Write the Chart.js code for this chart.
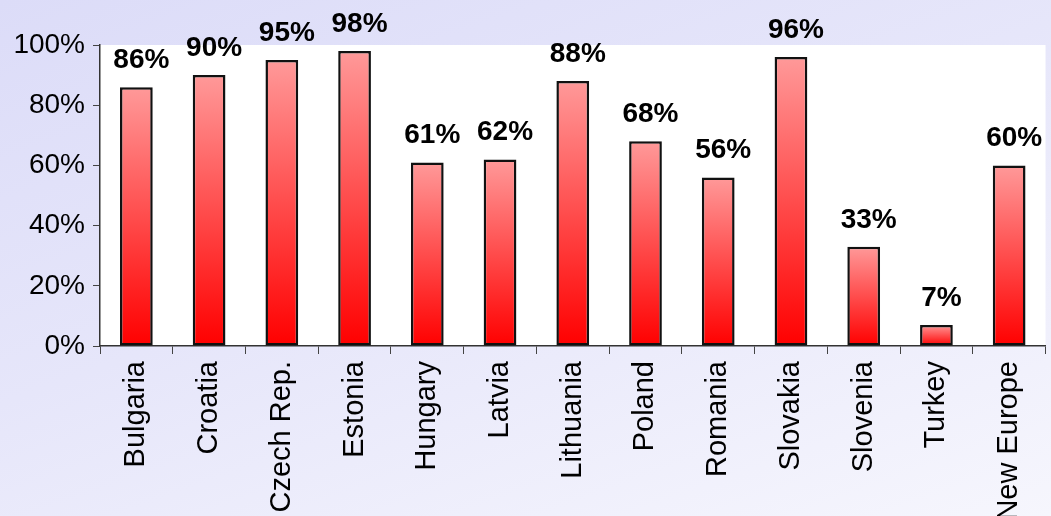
<!DOCTYPE html>
<html lang="en">
<head>
  <meta charset="UTF-8">
  <title>Share by country</title>
  <style>
    html, body { margin: 0; padding: 0; }
    body {
      width: 1051px; height: 516px; overflow: hidden;
      background: linear-gradient(160deg, #dcdcf8 0%, #e6e6fa 45%, #f6f6fd 100%);
    }
    #wrap { position: relative; width: 1051px; height: 516px; }
    canvas { display: block; }
  </style>
</head>
<body>
  <div id="wrap"><canvas id="shareChart" width="1051" height="516"></canvas></div>

  <script src="https://cdn.jsdelivr.net/npm/chart.js"></script>
  <script>
    const countries = ['Bulgaria', 'Croatia', 'Czech Rep.', 'Estonia', 'Hungary', 'Latvia', 'Lithuania',
      'Poland', 'Romania', 'Slovakia', 'Slovenia', 'Turkey', 'New Europe'];
    const shares = [86, 90, 95, 98, 61, 62, 88, 68, 56, 96, 33, 7, 60];
    const yTicks = [0, 20, 40, 60, 80, 100];

    const FONT = '"Liberation Sans", Arial, sans-serif';

    // white plot area behind the bars
    const plotBg = {
      id: 'plotBg',
      beforeDraw(chart) {
        const { ctx, chartArea: a } = chart;
        ctx.save();
        ctx.fillStyle = '#ffffff';
        ctx.fillRect(a.left, a.top, a.right - a.left, a.bottom - a.top);
        ctx.restore();
      }
    };

    // percent labels above each bar (allowed to run past the plot top)
    const barLabels = {
      id: 'barLabels',
      afterDatasetsDraw(chart) {
        const { ctx } = chart;
        const meta = chart.getDatasetMeta(0);
        ctx.save();
        ctx.font = 'bold 28px ' + FONT;
        ctx.fillStyle = '#000';
        ctx.textAlign = 'center';
        ctx.textBaseline = 'alphabetic';
        meta.data.forEach((bar, i) => {
          ctx.fillText(shares[i] + '%', bar.x + 5, bar.y - 19);
        });
        ctx.restore();
      }
    };

    function barFill(context) {
      const chart = context.chart;
      const y = chart.scales && chart.scales.y;
      if (!y || !chart.chartArea || context.raw === undefined) return '#ff4040';
      const top = y.getPixelForValue(context.raw);
      const base = y.getPixelForValue(0);
      if (!isFinite(top) || !isFinite(base) || top === base) return '#ff4040';
      const g = chart.ctx.createLinearGradient(0, top, 0, base);
      g.addColorStop(0, '#ff9999');
      g.addColorStop(1, '#ff0000');
      return g;
    }

    const ctx = document.getElementById('shareChart').getContext('2d');
    new Chart(ctx, {
      type: 'bar',
      data: {
        labels: countries,
        datasets: [{
          data: shares,
          backgroundColor: barFill,
          borderColor: '#111',
          borderWidth: 2.5,
          borderSkipped: false,
          barPercentage: 0.45,
          categoryPercentage: 1
        }]
      },
      options: {
        responsive: false,
        animation: false,
        devicePixelRatio: 1,
        layout: { padding: { top: 45, right: 1, left: 0, bottom: 0 } },
        plugins: {
          legend: { display: false },
          tooltip: { enabled: false }
        },
        scales: {
          x: {
            offset: true,
            grid: {
              display: true,
              offset: true,
              drawOnChartArea: false,
              drawTicks: true,
              tickLength: 8,
              color: '#444',
              lineWidth: 1
            },
            border: { display: true, color: '#333', width: 1.5 },
            ticks: {
              color: '#000',
              font: { family: FONT, size: 29 },
              minRotation: 90,
              maxRotation: 90,
              autoSkip: false,
              padding: 7
            },
            afterFit(scale) { scale.height = 170; }
          },
          y: {
            min: 0,
            max: 100,
            afterBuildTicks(scale) { scale.ticks = yTicks.map(v => ({ value: v })); },
            grid: {
              display: true,
              drawOnChartArea: false,
              drawTicks: true,
              tickLength: 7,
              color: '#444'
            },
            border: { display: true, color: '#333', width: 1.5 },
            ticks: {
              color: '#000',
              font: { family: FONT, size: 28 },
              padding: 8,
              callback: v => v + '%'
            },
            afterFit(scale) { scale.width = 100; }
          }
        }
      },
      plugins: [plotBg, barLabels]
    });
  </script>
</body>
</html>
